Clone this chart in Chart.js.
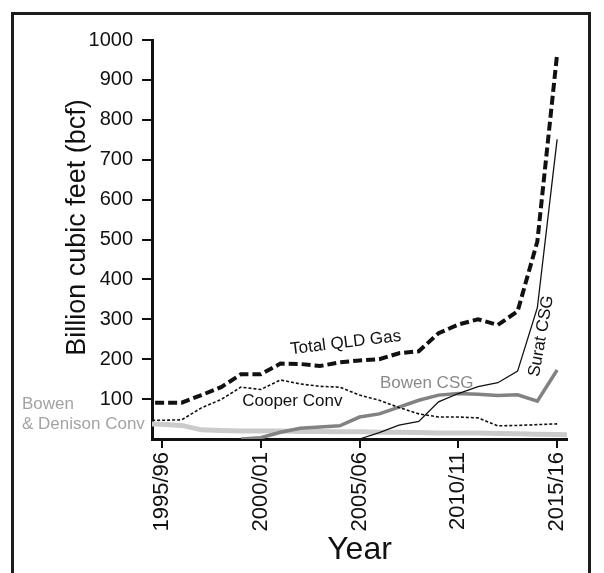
<!DOCTYPE html>
<html>
<head>
<meta charset="utf-8">
<script src="https://cdn.jsdelivr.net/npm/chart.js@4.4.1/dist/chart.umd.min.js"></script>
<style>
  html, body { margin: 0; padding: 0; background: #fff; overflow: hidden; }
  #frame { position: absolute; left: 11px; top: 12px; width: 580px; height: 640px;
           border: 3px solid #1c1c1c; box-sizing: border-box; }
  #c { position: absolute; left: 0; top: 0; }
</style>
</head>
<body>
<div id="frame"></div>
<canvas id="c" width="604" height="573"></canvas>
<script>
// Queensland gas production by source, billion cubic feet per financial year.
// Years are the first calendar year of each financial year (1995 -> 1995/96).
const yearStart = [1994, 1995, 1996, 1997, 1998, 1999, 2000, 2001, 2002, 2003, 2004,
                   2005, 2006, 2007, 2008, 2009, 2010, 2011, 2012, 2013, 2014, 2015, 2016];

const totalQld      = [91, 91, 91, 110, 130, 162, 162, 189, 188, 183, 192,
                       197, 200, 215, 220, 265, 287, 300, 286, 320, 495, 965, null];
const cooperConv    = [47, 47, 48, 78, 99, 130, 124, 148, 138, 132, 130,
                       110, 97, 79, 63, 55, 55, 53, 33, 34, 36, 38, null];
const suratCsg      = [null, null, null, null, null, null, null, null, null, null, null,
                       0, 16, 35, 44, 93, 114, 131, 141, 170, 329, 751, null];
const bowenCsg      = [null, null, null, null, null, 0, 3, 17, 27, 30, 33,
                       55, 63, 80, 97, 110, 114, 112, 109, 111, 95, 173, null];
const bowenDenison  = [38, 37, 34, 23, 21, 20, 20, 20, 19, 19, 18,
                       18, 17, 17, 16, 15, 15, 15, 14, 13, 12, 11, 10];

const seriesNames = ['Total QLD Gas', 'Cooper Conv', 'Surat CSG', 'Bowen CSG', 'Bowen', '& Denison Conv'];

const xTickValues = [1995, 2000, 2005, 2010, 2015];
const xTickLabels = ['1995/96', '2000/01', '2005/06', '2010/11', '2015/16'];
const yTickValues = [100, 200, 300, 400, 500, 600, 700, 800, 900, 1000];
const yTitle = 'Billion cubic feet (bcf)';

const FONT = '"Liberation Sans", Arial, Helvetica, sans-serif';
const INK = '#111111';

function points(values) {
  return yearStart.map((yr, i) => ({ x: yr, y: values[i] })).filter(p => p.y !== null);
}

// Inline series labels placed in axis coordinates
const notes = [
  { text: seriesNames[0], x: 2004.3, y: 241, rot: -7,  color: INK,       align: 'center' },
  { text: seriesNames[1], x: 2001.6, y: 94,  rot: 0,   color: INK,       align: 'center' },
  { text: seriesNames[3], x: 2008.4, y: 140, rot: 0,   color: '#8a8a8a', align: 'center' },
  { text: seriesNames[2], x: 2014.2, y: 258, rot: -80, color: INK,       align: 'center' },
  { text: seriesNames[4], px: 22,    y: 88,  rot: 0,   color: '#a3a3a3', align: 'left' },
  { text: seriesNames[5], px: 22,    y: 38,  rot: 0,   color: '#a3a3a3', align: 'left' }
];

const seriesLabels = {
  id: 'seriesLabels',
  afterDatasetsDraw(chart) {
    const { ctx, scales: { x, y } } = chart;
    notes.forEach(n => {
      const px = n.px !== undefined ? n.px : x.getPixelForValue(n.x);
      const py = y.getPixelForValue(n.y);
      ctx.save();
      ctx.translate(px, py);
      ctx.rotate(n.rot * Math.PI / 180);
      ctx.font = '17px ' + FONT;
      ctx.fillStyle = n.color;
      ctx.textAlign = n.align;
      ctx.textBaseline = 'middle';
      ctx.fillText(n.text, 0, 0);
      ctx.restore();
    });
    // vertical axis title, set slightly above the plot's midline
    ctx.save();
    ctx.translate(78, y.getPixelForValue(530));
    ctx.rotate(-Math.PI / 2);
    ctx.font = '27px ' + FONT;
    ctx.fillStyle = INK;
    ctx.textAlign = 'center';
    ctx.textBaseline = 'middle';
    ctx.fillText(yTitle, 0, 0);
    ctx.restore();
  }
};

new Chart(document.getElementById('c'), {
  type: 'line',
  data: {
    datasets: [
      { label: seriesNames[0], data: points(totalQld), borderColor: INK, borderWidth: 4,
        borderDash: [9, 4] },
      { label: seriesNames[1], data: points(cooperConv), borderColor: INK, borderWidth: 1.6,
        borderDash: [3, 2] },
      { label: seriesNames[2], data: points(suratCsg), borderColor: INK, borderWidth: 1.3 },
      { label: seriesNames[3], data: points(bowenCsg), borderColor: '#828282', borderWidth: 3.5 },
      { label: seriesNames[4] + ' ' + seriesNames[5], data: points(bowenDenison),
        borderColor: '#cbcbcb', borderWidth: 5 }
    ]
  },
  options: {
    responsive: false,
    animation: false,
    devicePixelRatio: 1,
    layout: { padding: { top: 40, right: 37, bottom: 0, left: 0 } },
    elements: { point: { radius: 0 }, line: { tension: 0, fill: false } },
    plugins: { legend: { display: false }, tooltip: { enabled: false } },
    scales: {
      x: {
        type: 'linear',
        min: 1994.5,
        max: 2015.5,
        afterBuildTicks: s => { s.ticks = xTickValues.map(v => ({ value: v })); },
        afterFit: s => { s.height = 134; },
        grid: { drawOnChartArea: false, drawTicks: true, tickLength: 9, color: INK, lineWidth: 2 },
        border: { display: true, color: INK, width: 3 },
        ticks: {
          color: INK,
          font: { family: FONT, size: 22 },
          minRotation: 90,
          maxRotation: 90,
          padding: 4,
          callback: v => xTickLabels[xTickValues.indexOf(v)]
        },
        title: { display: true, text: 'Year', color: INK,
                 font: { family: FONT, size: 32 }, padding: { top: 0, bottom: 4 } }
      },
      y: {
        min: 0,
        max: 1000,
        afterBuildTicks: s => { s.ticks = yTickValues.map(v => ({ value: v })); },
        afterFit: s => { s.width = 152; },
        grid: { drawOnChartArea: false, drawTicks: true, tickLength: 10, color: INK, lineWidth: 2 },
        border: { display: true, color: INK, width: 3 },
        ticks: { color: INK, font: { family: FONT, size: 20 }, padding: 9,
                 callback: v => String(v) }
      }
    }
  },
  plugins: [seriesLabels]
});
</script>
</body>
</html>
